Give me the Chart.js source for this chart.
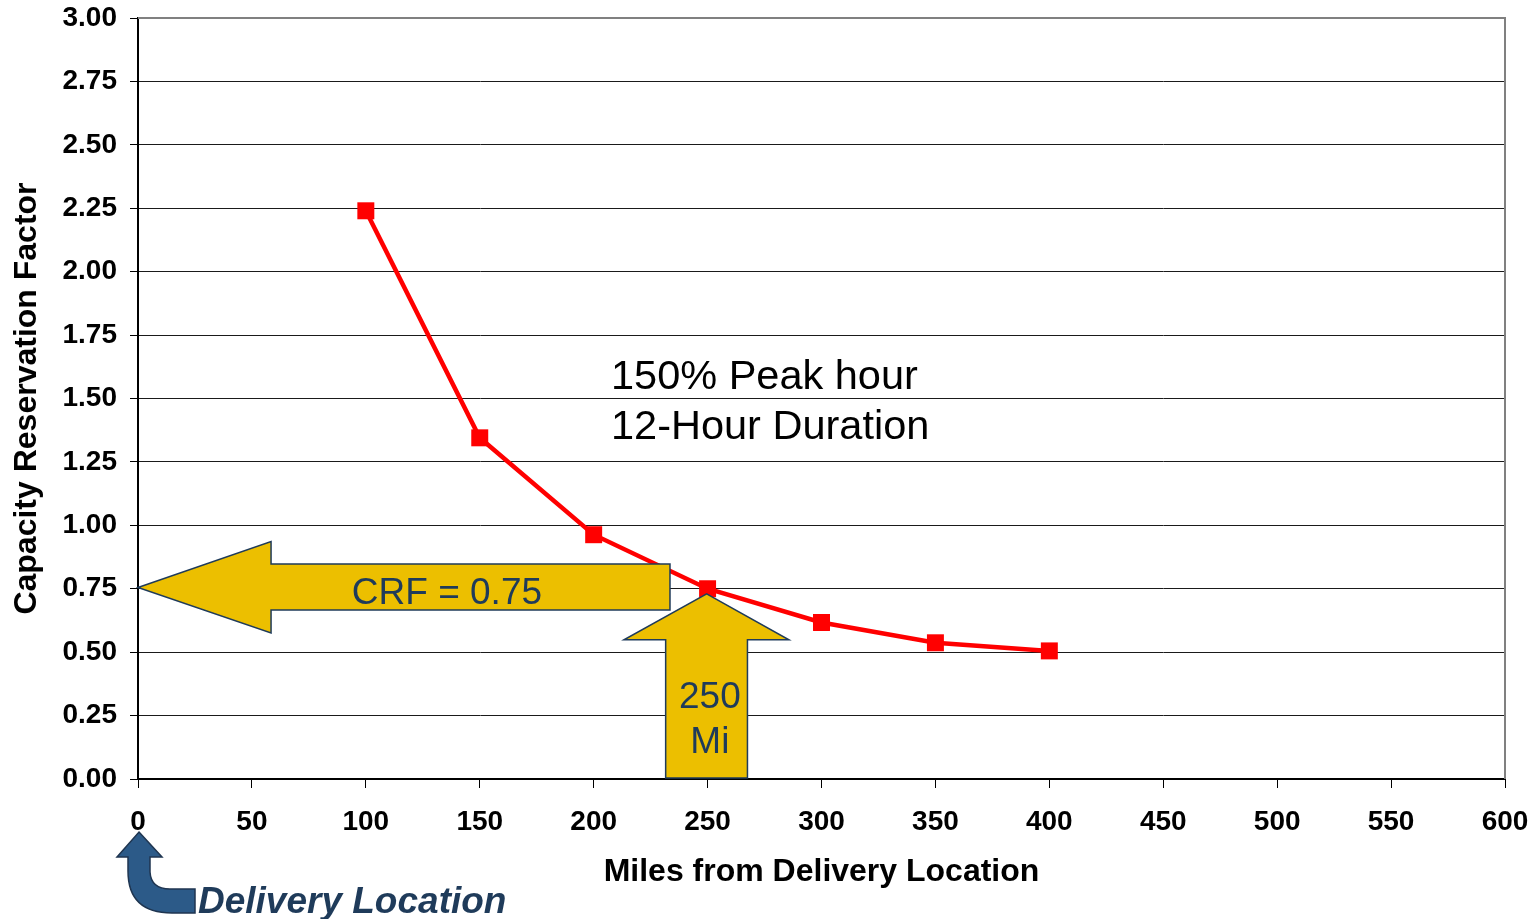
<!DOCTYPE html>
<html>
<head>
<meta charset="utf-8">
<script src="https://cdn.jsdelivr.net/npm/chart.js@4"></script>
<style>
  body { margin: 0; background: #fff; }
  #wrap { width: 1535px; height: 919px; position: relative; }
</style>
</head>
<body>
<div id="wrap"><canvas id="grafico"></canvas></div>
<script>
// datos
const miles = [100, 150, 200, 250, 300, 350, 400];
const crf = [2.24, 1.345, 0.963, 0.75, 0.617, 0.537, 0.505];
const xTicks = [0, 50, 100, 150, 200, 250, 300, 350, 400, 450, 500, 550, 600];
const yTicks = [0, 0.25, 0.5, 0.75, 1, 1.25, 1.5, 1.75, 2, 2.25, 2.5, 2.75, 3];

const amarillo = '#ECBF00';
const azulOscuro = '#1F3B5A';
const fuente = '"Liberation Sans", Arial, sans-serif';

// flechas en unidades de datos (millas, factor)
const flechaCRF = { tipX: 0, tipY: 0.755, headX: 58.4, headTop: 0.936, headBottom: 0.576,
                    bodyRight: 233.5, bodyTop: 0.848, bodyBottom: 0.666 };
const flecha250 = { tipX: 249.6, tipY: 0.73, headY: 0.549, headLeft: 213.3, headRight: 285.7,
                    bodyLeft: 231.6, bodyRight: 267.5, bottom: 0 };

const anotaciones = {
  id: 'anotaciones',
  beforeDatasetsDraw(chart) {
    const {ctx, chartArea: a} = chart;
    ctx.save();
    ctx.strokeStyle = '#808080';
    ctx.lineWidth = 2;
    ctx.beginPath();
    ctx.moveTo(a.left, a.top);
    ctx.lineTo(a.right, a.top);
    ctx.lineTo(a.right, a.bottom);
    ctx.stroke();
    ctx.restore();
  },
  afterDatasetsDraw(chart) {
    const {ctx} = chart;
    const xs = chart.scales.x, ys = chart.scales.y;
    const px = v => xs.getPixelForValue(v);
    const py = v => ys.getPixelForValue(v);
    ctx.save();

    // texto central
    ctx.fillStyle = '#000';
    ctx.font = '41.5px ' + fuente;
    ctx.textAlign = 'left';
    ctx.textBaseline = 'alphabetic';
    ctx.fillText('150% Peak hour', px(207.6), py(1.536));
    ctx.fillText('12-Hour Duration', px(207.6), py(1.34));

    ctx.fillStyle = amarillo;
    ctx.strokeStyle = azulOscuro;
    ctx.lineWidth = 1.5;
    ctx.lineJoin = 'miter';

    // flecha horizontal CRF
    let f = flechaCRF;
    ctx.beginPath();
    ctx.moveTo(px(f.tipX), py(f.tipY));
    ctx.lineTo(px(f.headX), py(f.headTop));
    ctx.lineTo(px(f.headX), py(f.bodyTop));
    ctx.lineTo(px(f.bodyRight), py(f.bodyTop));
    ctx.lineTo(px(f.bodyRight), py(f.bodyBottom));
    ctx.lineTo(px(f.headX), py(f.bodyBottom));
    ctx.lineTo(px(f.headX), py(f.headBottom));
    ctx.closePath();
    ctx.fill();
    ctx.stroke();

    // flecha vertical 250
    let g = flecha250;
    ctx.beginPath();
    ctx.moveTo(px(g.tipX), py(g.tipY));
    ctx.lineTo(px(g.headRight), py(g.headY));
    ctx.lineTo(px(g.bodyRight), py(g.headY));
    ctx.lineTo(px(g.bodyRight), py(g.bottom) - 1);
    ctx.lineTo(px(g.bodyLeft), py(g.bottom) - 1);
    ctx.lineTo(px(g.bodyLeft), py(g.headY));
    ctx.lineTo(px(g.headLeft), py(g.headY));
    ctx.closePath();
    ctx.fill();
    ctx.stroke();

    ctx.fillStyle = azulOscuro;
    ctx.font = '37px ' + fuente;
    ctx.textAlign = 'center';
    ctx.fillText('CRF = 0.75', px(135.6), py(0.688));
    ctx.fillText('250', px(251), py(0.281));
    ctx.fillText('Mi', px(251), py(0.104));

    // flecha curva "Delivery Location" bajo el eje
    const x0 = px(0);
    const y0 = xs.top;
    ctx.fillStyle = '#2C5A88';
    ctx.strokeStyle = '#1F3550';
    ctx.lineWidth = 1.5;
    ctx.beginPath();
    ctx.moveTo(x0 + 1, y0 + 53);
    ctx.lineTo(x0 + 24, y0 + 78);
    ctx.lineTo(x0 + 12, y0 + 78);
    ctx.lineTo(x0 + 12, y0 + 93);
    ctx.quadraticCurveTo(x0 + 13, y0 + 110, x0 + 32, y0 + 110);
    ctx.lineTo(x0 + 57, y0 + 110);
    ctx.lineTo(x0 + 57, y0 + 134);
    ctx.lineTo(x0 + 34, y0 + 134);
    ctx.quadraticCurveTo(x0 - 10, y0 + 134, x0 - 10, y0 + 92);
    ctx.lineTo(x0 - 10, y0 + 78);
    ctx.lineTo(x0 - 21, y0 + 78);
    ctx.closePath();
    ctx.fill();
    ctx.stroke();

    ctx.fillStyle = azulOscuro;
    ctx.font = 'italic bold 37px ' + fuente;
    ctx.textAlign = 'left';
    ctx.fillText('Delivery Location', x0 + 60, y0 + 134);

    ctx.restore();
  }
};

const ctx = document.getElementById('grafico');

new Chart(ctx, {
  type: 'line',
  data: {
    datasets: [{
      label: 'CRF',
      data: miles.map((m, i) => ({x: m, y: crf[i]})),
      borderColor: '#FF0000',
      backgroundColor: '#FF0000',
      borderWidth: 4.5,
      pointStyle: 'rect',
      pointRadius: 12,
      pointBorderWidth: 0,
      fill: false,
      tension: 0
    }]
  },
  options: {
    responsive: true,
    maintainAspectRatio: false,
    animation: false,
    layout: { padding: { top: 18, right: 30, left: 0, bottom: 0 } },
    plugins: { legend: { display: false }, tooltip: { enabled: false } },
    scales: {
      x: {
        type: 'linear',
        min: 0, max: 600,
        afterBuildTicks: s => { s.ticks = xTicks.map(v => ({value: v})); },
        afterFit: s => { s.height = 140; s.paddingLeft = 0; s.paddingRight = 0; },
        grid: { drawOnChartArea: false, drawTicks: true, tickLength: 9, tickColor: '#000' },
        border: { color: '#000', width: 2 },
        ticks: {
          color: '#000', padding: 17, maxRotation: 0,
          font: { family: fuente, size: 28, weight: 'bold' }
        },
        title: {
          display: true, text: 'Miles from Delivery Location', color: '#000',
          padding: { top: 0, bottom: 28 },
          font: { family: fuente, size: 32, weight: 'bold' }
        }
      },
      y: {
        min: 0, max: 3,
        afterBuildTicks: s => { s.ticks = yTicks.map(v => ({value: v})); },
        afterFit: s => { s.width = 138; s.paddingTop = 0; s.paddingBottom = 0; },
        grid: { color: '#1a1a1a', lineWidth: 1, drawTicks: true, tickLength: 8, tickColor: '#000' },
        border: { color: '#000', width: 2 },
        ticks: {
          color: '#000', padding: 13,
          callback: v => v.toFixed(2),
          font: { family: fuente, size: 28, weight: 'bold' }
        },
        title: {
          display: true, text: 'Capacity Reservation Factor', color: '#000',
          padding: { top: 8, bottom: 0 },
          font: { family: fuente, size: 32, weight: 'bold' }
        }
      }
    }
  },
  plugins: [anotaciones]
});
</script>
</body>
</html>
